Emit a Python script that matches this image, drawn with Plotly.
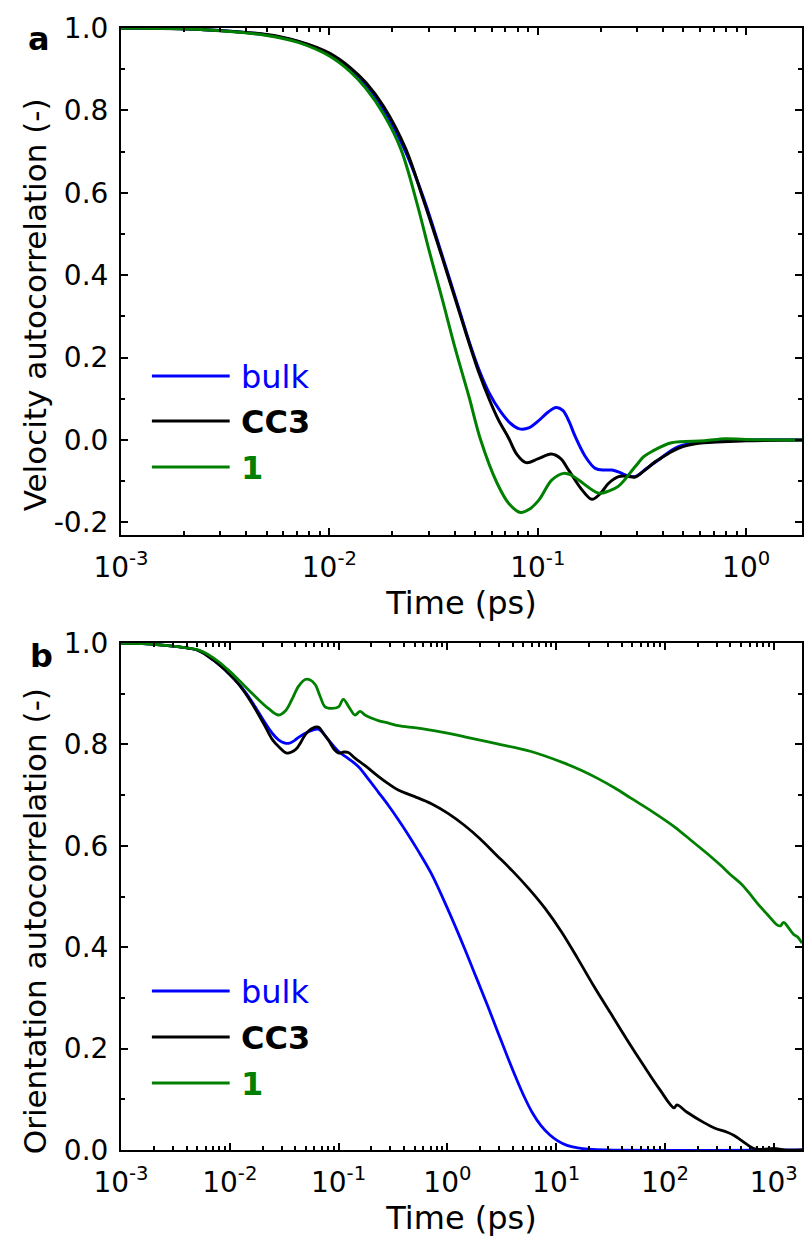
import plotly.graph_objects as go

# ---------------- Panel a: velocity autocorrelation ----------------
# time positions are read as log10(t / ps)
vel_bulk_log10t = [-3.0, -2.6, -2.3, -2.15, -2.0, -1.9, -1.824, -1.74, -1.64, -1.55, -1.46, -1.37, -1.33,
                   -1.28, -1.234, -1.18, -1.13, -1.088, -1.04, -1.0, -0.95, -0.912, -0.88, -0.85, -0.82,
                   -0.772, -0.724, -0.68, -0.644, -0.61, -0.58, -0.533, -0.48, -0.421, -0.325, -0.167,
                   0.0, 0.268]
vel_bulk = [1.0, 0.996, 0.983, 0.967, 0.937, 0.9, 0.862, 0.802, 0.706, 0.59, 0.45, 0.305, 0.24,
            0.168, 0.115, 0.07, 0.04, 0.027, 0.03, 0.045, 0.068, 0.079, 0.072, 0.045, 0.008,
            -0.04, -0.069, -0.073, -0.073, -0.078, -0.085, -0.089, -0.07, -0.0485, -0.016, -0.004,
            0.0, 0.0]

vel_cc3_log10t = [-3.0, -2.6, -2.3, -2.15, -2.0, -1.9, -1.824, -1.74, -1.633, -1.55, -1.46, -1.37, -1.33,
                  -1.28, -1.234, -1.19, -1.14, -1.1, -1.056, -1.0, -0.935, -0.89, -0.852, -0.788, -0.74,
                  -0.7, -0.66, -0.612, -0.57, -0.533, -0.49, -0.437, -0.38, -0.325, -0.23, 0.0, 0.268]
vel_cc3 = [1.0, 0.996, 0.984, 0.968, 0.939, 0.904, 0.867, 0.81, 0.706, 0.585, 0.445, 0.3, 0.236,
           0.16, 0.1, 0.05, 0.005, -0.035, -0.055, -0.046, -0.034, -0.045, -0.073, -0.121, -0.144,
           -0.13, -0.105, -0.089, -0.088, -0.09, -0.075, -0.053, -0.035, -0.02, -0.008, -0.002, 0.0]

vel_one_log10t = [-3.0, -2.6, -2.3, -2.15, -2.0, -1.9, -1.824, -1.74, -1.657, -1.58, -1.522, -1.46, -1.394,
                  -1.33, -1.274, -1.195, -1.139, -1.083, -1.04, -0.995, -0.932, -0.876, -0.84, -0.804,
                  -0.708, -0.66, -0.612, -0.533, -0.49, -0.453, -0.358, -0.2, -0.1, 0.0, 0.268]
vel_one = [1.0, 0.996, 0.982, 0.965, 0.932, 0.894, 0.853, 0.791, 0.706, 0.575, 0.461, 0.345, 0.218,
           0.105, 0.0, -0.105, -0.154, -0.176, -0.168, -0.146, -0.097, -0.081, -0.085, -0.097,
           -0.129, -0.124, -0.112, -0.065, -0.04, -0.028, -0.0065, -0.002, 0.003, 0.001, 0.0]

# ---------------- Panel b: orientation autocorrelation ----------------
ori_bulk_log10t = [-3.0, -2.8, -2.62, -2.45, -2.285, -2.15, -2.01, -1.93, -1.857, -1.76, -1.674, -1.61,
                   -1.552, -1.5, -1.46, -1.41, -1.368, -1.277, -1.185, -1.09, -1.0, -0.91, -0.817, -0.72,
                   -0.635, -0.54, -0.452, -0.36, -0.268, -0.147, 0.006, 0.159, 0.27, 0.373, 0.465, 0.556,
                   0.63, 0.709, 0.78, 0.861, 0.94, 1.015, 1.1, 1.198, 1.3, 1.45, 3.26]
ori_bulk = [1.0, 0.999, 0.996, 0.992, 0.985, 0.966, 0.94, 0.922, 0.903, 0.872, 0.842, 0.822,
            0.809, 0.803, 0.802, 0.807, 0.814, 0.825, 0.83, 0.808, 0.786, 0.772, 0.756, 0.73,
            0.706, 0.679, 0.652, 0.622, 0.59, 0.545, 0.474, 0.397, 0.338, 0.283, 0.232, 0.182,
            0.143, 0.104, 0.074, 0.048, 0.03, 0.018, 0.009, 0.004, 0.0015, 0.0, 0.0]

ori_cc3_log10t = [-3.0, -2.8, -2.62, -2.45, -2.285, -2.15, -2.01, -1.93, -1.857, -1.76, -1.674, -1.61,
                  -1.552, -1.476, -1.399, -1.35, -1.307, -1.24, -1.185, -1.14, -1.094, -1.04, -1.0, -0.95,
                  -0.91, -0.849, -0.75, -0.635, -0.54, -0.452, -0.299, -0.147, 0.006, 0.159, 0.3, 0.45,
                  0.6, 0.75, 0.9, 1.05, 1.2, 1.35, 1.5, 1.65, 1.8, 1.95, 2.084, 2.11, 2.2,
                  2.359, 2.46, 2.573, 2.64, 2.695, 2.76, 2.817, 2.9, 3.0, 3.1, 3.26]
ori_cc3 = [1.0, 0.999, 0.996, 0.992, 0.985, 0.966, 0.94, 0.922, 0.901, 0.868, 0.835, 0.81,
           0.796, 0.783, 0.789, 0.803, 0.819, 0.832, 0.834, 0.822, 0.809, 0.79, 0.783, 0.785,
           0.784, 0.773, 0.757, 0.737, 0.722, 0.71, 0.697, 0.683, 0.664, 0.64, 0.614, 0.582,
           0.55, 0.515, 0.476, 0.43, 0.377, 0.322, 0.27, 0.218, 0.168, 0.12, 0.083, 0.089, 0.075,
           0.054, 0.043, 0.035, 0.028, 0.02, 0.01, 0.003, 0.001, 0.003, 0.0, 0.0]

ori_one_log10t = [-3.0, -2.8, -2.62, -2.45, -2.285, -2.19, -2.102, -2.01, -1.918, -1.82, -1.735, -1.64,
                  -1.552, -1.49, -1.43, -1.37, -1.307, -1.26, -1.215, -1.17, -1.124, -1.063, -1.0, -0.956,
                  -0.9, -0.849, -0.803, -0.757, -0.7, -0.635, -0.54, -0.452, -0.268, -0.05, 0.159, 0.46,
                  0.77, 1.076, 1.23, 1.381, 1.54, 1.687, 1.88, 2.084, 2.25, 2.42, 2.52, 2.603, 2.695, 2.77,
                  2.848, 2.94, 3.031, 3.06, 3.092, 3.13, 3.184, 3.22, 3.26]
ori_one = [1.0, 0.999, 0.996, 0.992, 0.986, 0.976, 0.963, 0.946, 0.927, 0.906, 0.888, 0.87,
           0.858, 0.866, 0.888, 0.914, 0.928, 0.927, 0.918, 0.895, 0.874, 0.871, 0.874, 0.889,
           0.872, 0.858, 0.865, 0.858, 0.852, 0.847, 0.842, 0.837, 0.832, 0.824, 0.815, 0.801,
           0.786, 0.763, 0.749, 0.733, 0.714, 0.694, 0.668, 0.638, 0.609, 0.579, 0.56, 0.543, 0.526, 0.508,
           0.487, 0.465, 0.444, 0.442, 0.449, 0.44, 0.425, 0.42, 0.408]

# tick labels
vel_yticks = [-0.2, 0.0, 0.2, 0.4, 0.6, 0.8, 1.0]
vel_yticktext = ["-0.2", "0.0", "0.2", "0.4", "0.6", "0.8", "1.0"]
ori_yticks = [0.0, 0.2, 0.4, 0.6, 0.8, 1.0]
ori_yticktext = ["0.0", "0.2", "0.4", "0.6", "0.8", "1.0"]
vel_xexp = [-3, -2, -1, 0]
ori_xexp = [-3, -2, -1, 0, 1, 2, 3]

series_names = ["bulk", "CC3", "1"]
series_colors = ["#0000FF", "#000000", "#008000"]

FONT = "DejaVu Sans, Liberation Sans, Arial, sans-serif"
W, H = 806, 1241
ML, MR, MT, MB = 121, 2, 28, 91
PW, PH = W - ML - MR, H - MT - MB


def px2x(px):
    return (px - ML) / PW


def py2y(py):
    return (H - MB - py) / PH


def to_t(logs):
    return [10.0 ** v for v in logs]


fig = go.Figure()

panel_a = [(vel_bulk_log10t, vel_bulk), (vel_cc3_log10t, vel_cc3), (vel_one_log10t, vel_one)]
panel_b = [(ori_bulk_log10t, ori_bulk), (ori_cc3_log10t, ori_cc3), (ori_one_log10t, ori_one)]

for (lx, vy), name, col in zip(panel_a, series_names, series_colors):
    fig.add_trace(go.Scatter(x=to_t(lx), y=vy, mode="lines", name=name, xaxis="x", yaxis="y",
                             line=dict(color=col, width=3, shape="spline", smoothing=1.0),
                             showlegend=False, hoverinfo="skip"))
for (lx, vy), name, col in zip(panel_b, series_names, series_colors):
    fig.add_trace(go.Scatter(x=to_t(lx), y=vy, mode="lines", name=name, xaxis="x2", yaxis="y2",
                             line=dict(color=col, width=2.8, shape="spline", smoothing=1.0),
                             showlegend=False, hoverinfo="skip"))


def minor_log(lo, hi):
    vals = []
    for k in range(lo, hi + 1):
        for m in range(2, 10):
            vals.append(m * 10.0 ** k)
    return vals


def xaxis(exps, rng, anchor):
    return dict(type="log", range=rng, domain=[0, 1], anchor=anchor,
                showline=True, linewidth=2, linecolor="black", mirror="ticks",
                ticks="inside", ticklen=7, tickwidth=2, tickcolor="black",
                tickvals=[10.0 ** e for e in exps],
                ticktext=["10<sup>%d</sup>" % e for e in exps],
                minor=dict(tickvals=minor_log(exps[0], exps[-1]), ticks="inside", ticklen=4,
                           tickwidth=1.5, tickcolor="black", showgrid=False),
                showgrid=False, zeroline=False,
                tickfont=dict(family=FONT, size=28, color="black"),
                ticklabelstandoff=6,
                title=dict(text="Time (ps)", font=dict(family=FONT, size=32, color="black"), standoff=2))


def yaxis(vals, text, rng, domain, anchor):
    minors = [round(v + 0.1, 2) for v in vals[:-1]]
    return dict(range=rng, domain=domain, anchor=anchor,
                showline=True, linewidth=2, linecolor="black", mirror="ticks",
                ticks="inside", ticklen=7, tickwidth=2, tickcolor="black",
                tickvals=vals, ticktext=text,
                minor=dict(tickvals=minors, ticks="inside", ticklen=4, tickwidth=1.5,
                           tickcolor="black", showgrid=False),
                showgrid=False, zeroline=False,
                tickfont=dict(family=FONT, size=28, color="black"),
                ticklabelstandoff=5)


fig.update_layout(
    width=W, height=H,
    margin=dict(l=ML, r=MR, t=MT, b=MB),
    paper_bgcolor="white", plot_bgcolor="white",
    showlegend=False,
    xaxis=xaxis(vel_xexp, [-3, 0.268], "y"),
    yaxis=yaxis(vel_yticks, vel_yticktext, [-0.2306, 1.0], [py2y(535), 1.0], "x"),
    xaxis2=xaxis(ori_xexp, [-3, 3.26], "y2"),
    yaxis2=yaxis(ori_yticks, ori_yticktext, [0.0, 1.0], [0.0, py2y(643)], "x2"),
)

annotations = []
shapes = []

# y-axis titles
annotations.append(dict(text="Velocity autocorrelation (-)", x=px2x(35), y=py2y(305), xref="paper", yref="paper",
                        xanchor="center", yanchor="middle", textangle=-90, showarrow=False,
                        font=dict(family=FONT, size=31, color="black")))
annotations.append(dict(text="Orientation autocorrelation (-)", x=px2x(35), y=py2y(921), xref="paper", yref="paper",
                        xanchor="center", yanchor="middle", textangle=-90, showarrow=False,
                        font=dict(family=FONT, size=31, color="black")))
# panel labels
annotations.append(dict(text="<b>a</b>", x=px2x(39), y=py2y(39), xref="paper", yref="paper",
                        xanchor="center", yanchor="middle", showarrow=False,
                        font=dict(family=FONT, size=32, color="black")))
annotations.append(dict(text="<b>b</b>", x=px2x(41), y=py2y(656), xref="paper", yref="paper",
                        xanchor="center", yanchor="middle", showarrow=False,
                        font=dict(family=FONT, size=32, color="black")))

# legends (drawn manually)
legend_rows = {"a": [376, 421, 467], "b": [991, 1037, 1083]}
labels_html = ["bulk", "<b>CC3</b>", "<b>1</b>"]
for panel, rows in legend_rows.items():
    for py, lab, col in zip(rows, labels_html, series_colors):
        shapes.append(dict(type="line", xref="paper", yref="paper", x0=px2x(152), x1=px2x(230),
                           y0=py2y(py), y1=py2y(py), line=dict(color=col, width=3)))
        annotations.append(dict(text=lab, x=px2x(239), y=py2y(py + 1), xref="paper", yref="paper",
                                xanchor="left", yanchor="middle", showarrow=False,
                                font=dict(family=FONT, size=32, color=col)))

fig.update_layout(annotations=annotations, shapes=shapes)

fig.write_html("out.html")
